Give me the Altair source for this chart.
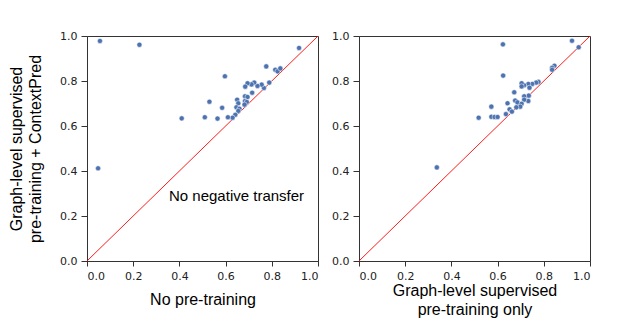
import altair as alt
import pandas as pd

# Left panel: x = No pre-training, y = Graph-level supervised + ContextPred
left_x = [0.056, 0.227, 0.048, 0.918, 0.776, 0.815, 0.825, 0.837, 0.597, 0.789,
          0.766, 0.756, 0.738, 0.724, 0.712, 0.695, 0.685, 0.715, 0.684, 0.695,
          0.684, 0.692, 0.682, 0.650, 0.655, 0.647, 0.660, 0.655, 0.642, 0.630,
          0.610, 0.565, 0.585, 0.530, 0.510, 0.410]
left_y = [0.978, 0.961, 0.412, 0.947, 0.865, 0.850, 0.843, 0.856, 0.821, 0.793,
          0.769, 0.784, 0.778, 0.793, 0.785, 0.790, 0.775, 0.748, 0.732, 0.729,
          0.711, 0.707, 0.695, 0.717, 0.701, 0.683, 0.677, 0.667, 0.650, 0.637,
          0.639, 0.633, 0.681, 0.708, 0.639, 0.634]

# Right panel: x = Graph-level supervised only, y = Graph-level supervised + ContextPred
right_x = [0.623, 0.922, 0.951, 0.846, 0.836, 0.836, 0.624, 0.777, 0.767, 0.750,
           0.733, 0.715, 0.704, 0.704, 0.738, 0.672, 0.735, 0.715, 0.733, 0.715,
           0.676, 0.686, 0.704, 0.643, 0.698, 0.681, 0.652, 0.662, 0.636, 0.573,
           0.573, 0.587, 0.600, 0.518, 0.337]
right_y = [0.963, 0.979, 0.950, 0.868, 0.859, 0.850, 0.824, 0.796, 0.793, 0.787,
           0.787, 0.781, 0.790, 0.776, 0.770, 0.750, 0.735, 0.732, 0.711, 0.717,
           0.713, 0.705, 0.699, 0.701, 0.686, 0.683, 0.674, 0.664, 0.653, 0.686,
           0.641, 0.640, 0.640, 0.637, 0.416]

diag = [0.0, 1.0]
ticks = [0.0, 0.2, 0.4, 0.6, 0.8, 1.0]
note_text = ["No negative transfer"]
note_x = [0.355]
note_y = [0.29]

TITLE_FONT = "Liberation Sans"
TICK_FONT = "DejaVu Sans"
PT_COLOR = "#4c72b0"

left_df = pd.DataFrame({"x": left_x, "y": left_y})
right_df = pd.DataFrame({"x": right_x, "y": right_y})
diag_df = pd.DataFrame({"x": diag, "y": diag})
note_df = pd.DataFrame({"x": note_x, "y": note_y, "t": note_text})


def axis(title, **kw):
    return alt.Axis(values=ticks, format=".1f", grid=False, title=title,
                    labelFont=TICK_FONT, labelFontSize=11, labelColor="#222",
                    titleFont=TITLE_FONT, titleFontSize=16, titleFontWeight="normal",
                    titleColor="black", domainColor="#333", tickColor="#333",
                    titleLineHeight=19, **kw)


def panel(df, xtitle, ytitle, with_note, xtitle_pad):
    xs = alt.Scale(domain=[0, 1], nice=False, zero=False)
    ys = alt.Scale(domain=[0, 1], nice=False, zero=False)
    yax_kwargs = dict(titlePadding=16) if ytitle else {}
    line = alt.Chart(diag_df).mark_line(color="red", strokeWidth=0.9).encode(
        x=alt.X("x:Q", scale=xs, axis=axis(xtitle, titlePadding=xtitle_pad,
                                            tickSize=5, labelPadding=4)),
        y=alt.Y("y:Q", scale=ys, axis=axis(ytitle if ytitle else None,
                                            tickSize=6, labelPadding=4, **yax_kwargs)),
    )
    pts = alt.Chart(df).mark_circle(size=26, color=PT_COLOR, opacity=1,
                                    stroke="white", strokeWidth=0.5).encode(
        x="x:Q", y="y:Q")
    layers = [line, pts]
    if with_note:
        txt = alt.Chart(note_df).mark_text(align="left", baseline="middle",
                                           font=TITLE_FONT, fontSize=15,
                                           color="black").encode(
            x="x:Q", y="y:Q", text="t:N")
        layers.append(txt)
    return alt.layer(*layers).properties(width=231, height=225)


left = panel(left_df, "No pre-training",
             ["Graph-level supervised", "pre-training + ContextPred"], True, 10)
right = panel(right_df, ["Graph-level supervised", "pre-training only"], None, False, 1)

chart = alt.hconcat(left, right, spacing=10).configure_view(
    stroke="#333", strokeWidth=1
).properties(background="white", padding={"left": 0, "top": 21, "right": 5, "bottom": 0})

chart.save("out.html", embed_options={"renderer": "svg", "actions": False})
